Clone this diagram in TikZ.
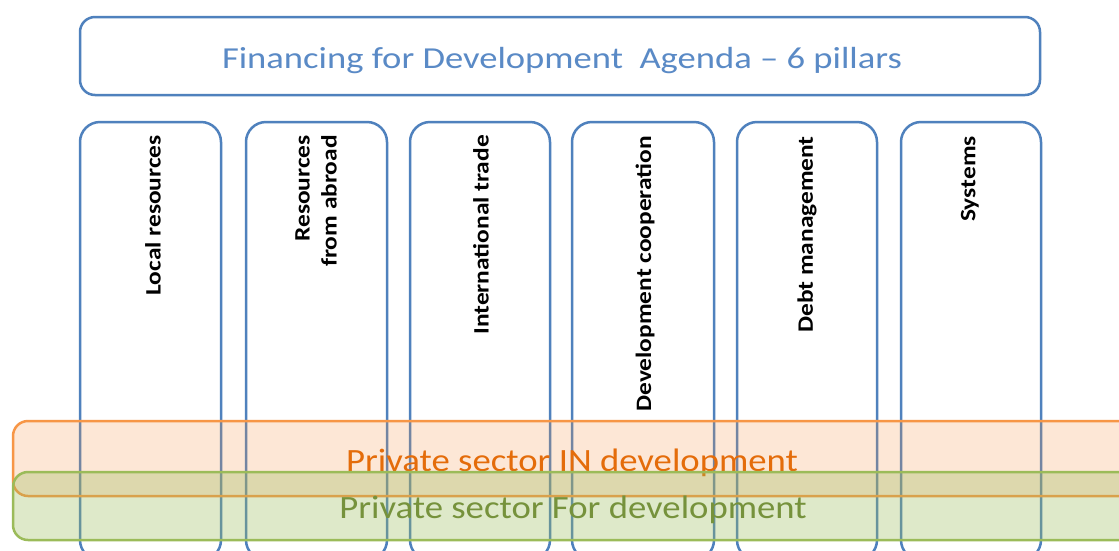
\documentclass[tikz,border=0pt]{standalone}
\usepackage{fontspec}
\setmainfont{Carlito}
\usepackage{graphicx}
\definecolor{pblue}{HTML}{4F81BD}
\definecolor{tblue}{HTML}{5A8AC6}
\definecolor{porange}{HTML}{F79646}
\definecolor{torange}{HTML}{E46C0A}
\definecolor{pgreen}{HTML}{9BBB59}
\definecolor{tgreen}{HTML}{76923C}
\newcommand{\hsband}[1]{\scalebox{1.13}[1]{#1}}
\newcommand{\hspil}[1]{\scalebox{1.155}[1]{#1}}
\newcommand{\hstit}[1]{\scalebox{1.2}[1]{#1}}
\tikzset{
  pillar/.style={draw=pblue, line width=2.5pt, rounded corners=20pt, fill=white},
  ptext/.style={rotate=90, anchor=east, inner sep=0pt, align=right, font=\fontsize{22}{27}\selectfont\bfseries, text=black},
  band/.style={line width=2.5pt, rounded corners=15pt},
}
\begin{document}
\begin{tikzpicture}[x=1pt,y=-1pt]
\clip (0,0) rectangle (1119,550);
\fill[white] (0,0) rectangle (1119,550);
% title
\draw[draw=pblue, line width=2.5pt, rounded corners=15pt] (80,17) rectangle (1040,95);
\node[anchor=base, inner sep=0pt, text=tblue, font=\fontsize{30.5}{36}\selectfont] (title) at (562,68) {\hstit{Financing for Development\ \ Agenda -- 6 pillars}};
% pillars
\draw[pillar] (80,122) rectangle (221,560);
\draw[pillar] (246,122) rectangle (387,560);
\draw[pillar] (410,122) rectangle (550,560);
\draw[pillar] (572,122) rectangle (714,560);
\draw[pillar] (737,122) rectangle (877,560);
\draw[pillar] (901,122) rectangle (1041,560);
\node[ptext] (p1) at (153,135) {\hspil{Local resources}};
\node[ptext] (p2) at (316,135) {\hspil{Resources}\\\hspil{from abroad}};
\node[ptext] (p3) at (481,135) {\hspil{International trade}};
\node[ptext] (p4) at (645,136) {\hspil{Development cooperation}};
\node[ptext] (p5) at (807,136) {\hspil{Debt management}};
\node[ptext] (p6) at (970,136) {\hspil{Systems}};
% bands
\draw[band, draw=porange, fill=porange, fill opacity=0.22] (13,421) rectangle (1160,496);
\node[anchor=base, inner sep=0pt, text=torange, font=\fontsize{32.5}{38}\selectfont] (inDev) at (572,471) {\hsband{Private sector IN development}};
\draw[band, draw=pgreen, fill=pgreen, fill opacity=0.32] (13,472) rectangle (1160,540);
\node[anchor=base, inner sep=0pt, text=tgreen, font=\fontsize{32.5}{38}\selectfont] (forDev) at (573,518) {\hsband{Private sector For development}};
\end{tikzpicture}
\end{document}
